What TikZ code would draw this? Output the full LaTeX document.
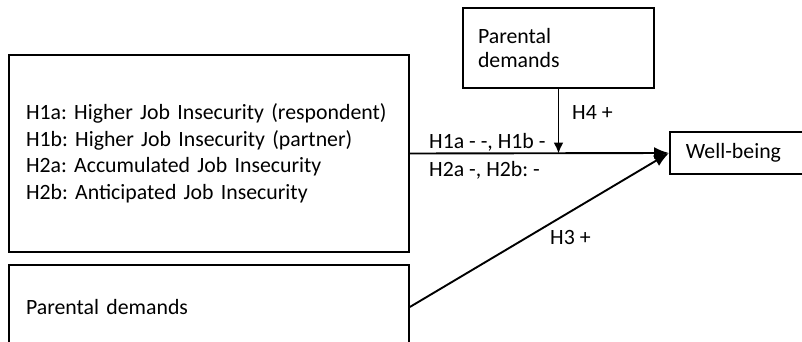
\documentclass[tikz,border=0pt]{standalone}
\usepackage{fontspec}
\setmainfont{Carlito}
\usetikzlibrary{arrows.meta,calc}
\frenchspacing
\begin{document}
\begin{tikzpicture}[x=1pt,y=-1pt,
  box/.style={draw,line width=1.7pt,rectangle,align=left,inner ysep=0pt,
    font=\frenchspacing\fontsize{21.8}{26.5}\selectfont},
  lbl/.style={anchor=west,inner sep=0pt,font=\frenchspacing\fontsize{21.8}{24}\selectfont},
  conn/.style={line width=1.9pt},
  bigtip/.style={-{Latex[length=15pt,width=12pt]}},
  smalltip/.style={-{Latex[length=11pt,width=10pt]}}]
\useasboundingbox (0,0) rectangle (802,342);
\begin{scope}
\clip (0,0) rectangle (802,342);
% boxes
\node[box,minimum width=400pt,minimum height=197pt,text width=366pt,inner xsep=17pt]
  (jobs) at (209,153.5) {H1a: Higher Job Insecurity (respondent)\\H1b: Higher Job Insecurity (partner)\\H2a: Accumulated Job Insecurity\\H2b: Anticipated Job Insecurity};
\node[box,minimum width=400pt,minimum height=84pt,text width=366pt,inner xsep=17pt]
  (pd2) at (209,307) {Parental demands};
\node[box,minimum width=191pt,minimum height=80pt,text width=161pt,inner xsep=15pt,
  font=\fontsize{21.8}{24.5}\selectfont]
  (pd1) at (558.5,48) {Parental\\demands};
\node[box,anchor=west,minimum width=260pt,minimum height=42pt,text width=228pt,inner xsep=16pt]
  (wb) at (669,153) {Well-being};
% connectors
\coordinate (j) at (pd1.south |- jobs.east);
\draw[conn,bigtip] (jobs.east) -- (wb.west);
\draw[conn,smalltip] (pd1.south) -- (j);
\draw[conn,bigtip] (pd2.east) -- (wb.west);
% labels
\node[lbl] (h4) at (572,113) {H4 +};
\node[lbl] (h1) at (429,142) {H1a - -, H1b -};
\node[lbl] (h2) at (429,170) {H2a -, H2b: -};
\node[lbl] (h3) at (550,237) {H3 +};
\end{scope}
\end{tikzpicture}
\end{document}
